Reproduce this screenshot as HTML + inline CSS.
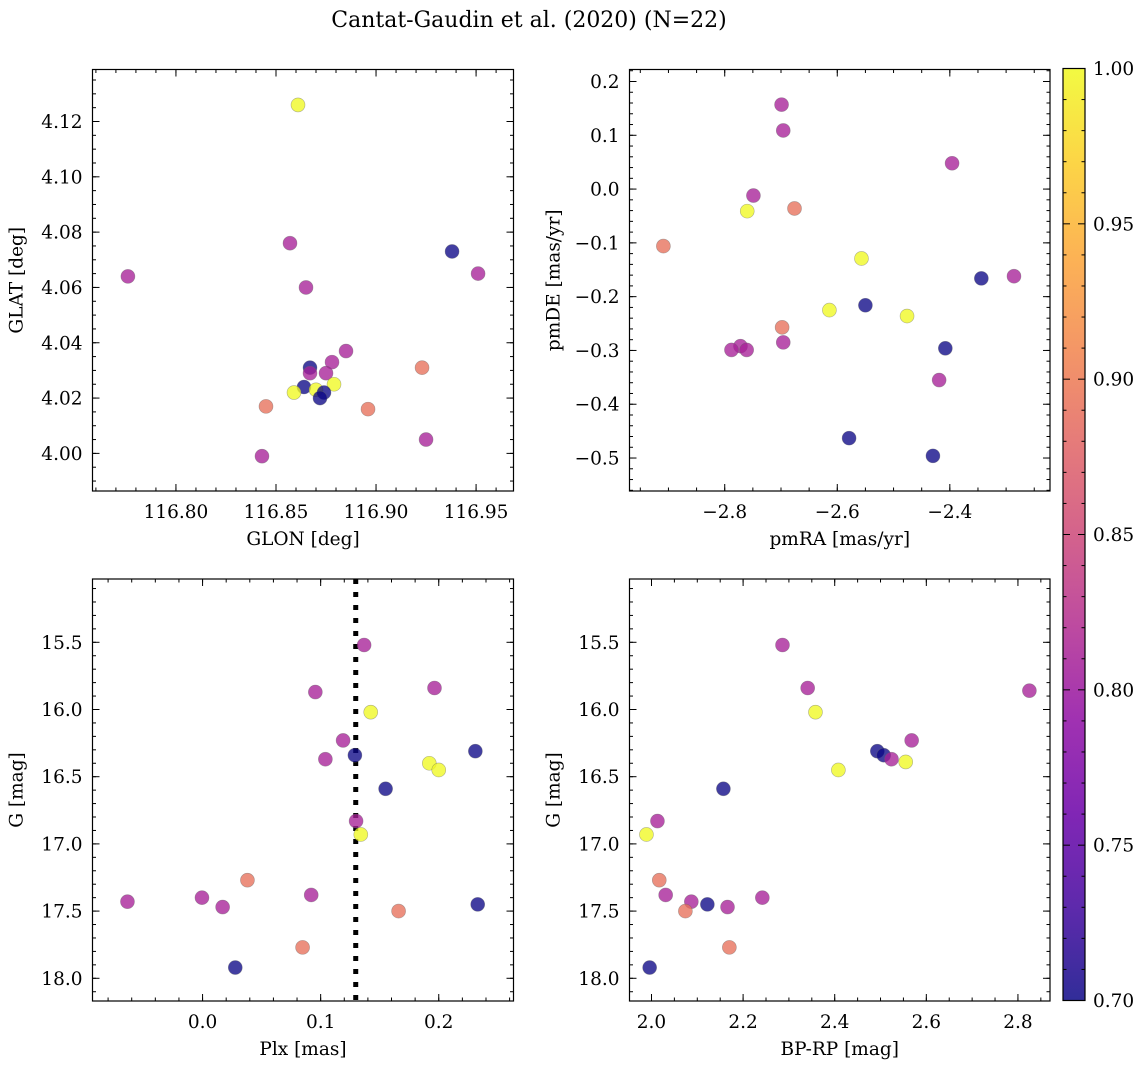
<!DOCTYPE html>
<html><head><meta charset="utf-8"><style>
body{margin:0;background:#fff}
svg text{font-family:"DejaVu Serif","Liberation Serif",serif;fill:#000}
</style></head><body>
<svg id="fig" width="1148" height="1068" viewBox="0 0 1148 1068" xmlns="http://www.w3.org/2000/svg">
<text x="529" y="27" font-size="22" text-anchor="middle">Cantat-Gaudin et al. (2020) (N=22)</text>
</svg>
<script>
// ---- data ----
const glon=[116.861,116.857,116.776,116.938,116.951,116.865,116.885,116.878,116.875,116.867,116.867,116.923,116.864,116.870,116.879,116.859,116.874,116.872,116.845,116.896,116.925,116.843];
const glat=[4.126,4.076,4.064,4.073,4.065,4.060,4.037,4.033,4.029,4.031,4.029,4.031,4.024,4.023,4.025,4.022,4.022,4.020,4.017,4.016,4.005,3.999];
const probTL=[1.0,0.81,0.81,0.70,0.81,0.81,0.81,0.81,0.81,0.70,0.81,0.89,0.70,1.0,1.0,1.0,0.70,0.70,0.89,0.89,0.81,0.81];
const pmra=[-2.699,-2.696,-2.396,-2.749,-2.760,-2.676,-2.909,-2.557,-2.344,-2.286,-2.550,-2.614,-2.476,-2.698,-2.696,-2.408,-2.772,-2.788,-2.761,-2.419,-2.579,-2.430];
const pmde=[0.157,0.109,0.048,-0.012,-0.041,-0.036,-0.106,-0.129,-0.166,-0.162,-0.216,-0.225,-0.236,-0.257,-0.285,-0.296,-0.292,-0.299,-0.299,-0.355,-0.463,-0.496];
const probTR=[0.81,0.81,0.81,0.81,1.0,0.89,0.89,1.0,0.70,0.81,0.70,1.0,1.0,0.89,0.81,0.70,0.81,0.81,0.81,0.81,0.70,0.70];
const plx=[0.1368,0.0955,0.1964,0.1424,0.119,0.129,0.104,0.231,0.192,0.200,0.155,0.130,0.134,0.038,-0.0636,-0.0005,0.017,0.092,0.166,0.233,0.0847,0.0277];
const gmagBL=[15.52,15.87,15.84,16.02,16.23,16.34,16.37,16.31,16.40,16.45,16.59,16.83,16.93,17.27,17.43,17.40,17.47,17.38,17.50,17.45,17.77,17.92];
const probBL=[0.81,0.81,0.81,1.0,0.81,0.70,0.81,0.70,1.0,1.0,0.70,0.81,1.0,0.89,0.81,0.81,0.81,0.81,0.89,0.70,0.89,0.70];
const bprp=[2.286,2.341,2.825,2.358,2.568,2.493,2.507,2.524,2.555,2.408,2.157,2.013,1.989,2.017,2.031,2.087,2.074,2.122,2.166,2.242,2.170,1.996];
const gmagBR=[15.52,15.84,15.86,16.02,16.23,16.31,16.34,16.37,16.39,16.45,16.59,16.83,16.93,17.27,17.38,17.43,17.50,17.45,17.47,17.40,17.77,17.92];
const probBR=[0.81,0.81,0.81,1.0,0.81,0.70,0.70,0.81,1.0,1.0,0.70,0.81,1.0,0.89,0.81,0.81,0.89,0.70,0.81,0.81,0.89,0.70];
const plxMedian=[0.1297];
const cbTicks=[0.70,0.75,0.80,0.85,0.90,0.95,1.00];

const NS='http://www.w3.org/2000/svg';
const fig=document.getElementById('fig');
const FS=18.5;
function mk(tag,attrs,parent){const e=document.createElementNS(NS,tag);for(const k in attrs)e.setAttribute(k,attrs[k]);(parent||fig).appendChild(e);return e;}
const stops=[[0,[13,8,135]],[0.1,[65,4,157]],[0.2,[106,0,168]],[0.3,[143,13,164]],[0.4,[177,42,144]],[0.5,[204,71,120]],[0.6,[225,100,98]],[0.7,[242,132,75]],[0.8,[252,166,54]],[0.9,[252,206,37]],[1,[240,249,33]]];
function plasma(t){t=Math.max(0,Math.min(1,t));for(let i=1;i<stops.length;i++){if(t<=stops[i][0]){const a=stops[i-1],b=stops[i],f=(t-a[0])/(b[0]-a[0]);const c=a[1].map((v,j)=>Math.round(v+(b[1][j]-v)*f));return 'rgb('+c.join(',')+')';}}return 'rgb(240,249,33)';}
function pcol(p){return plasma((p-0.7)/0.3);}

function panel(o){
  const g=mk('g',{});
  
  
  const sx=v=>o.x0+(v-o.xd[0])/(o.xd[1]-o.xd[0])*(o.x1-o.x0);
  const sy=o.inv?(v=>o.y0+(v-o.yd[0])/(o.yd[1]-o.yd[0])*(o.y1-o.y0)):(v=>o.y1-(v-o.yd[0])/(o.yd[1]-o.yd[0])*(o.y1-o.y0));
  const eps=1e-9;
  function ticksX(step,len){const s=Math.ceil((o.xd[0])/step-eps);for(let k=s;k*step<=o.xd[1]+eps;k++){const x=sx(k*step);mk('line',{x1:x,x2:x,y1:o.y1,y2:o.y1-len,stroke:'#000','stroke-width':1},g);mk('line',{x1:x,x2:x,y1:o.y0,y2:o.y0+len,stroke:'#000','stroke-width':1},g);}}
  function ticksY(step,len){const lo=Math.min(...o.yd),hi=Math.max(...o.yd);const s=Math.ceil(lo/step-eps);for(let k=s;k*step<=hi+eps;k++){const y=sy(k*step);mk('line',{x1:o.x0,x2:o.x0+len,y1:y,y2:y,stroke:'#000','stroke-width':1},g);mk('line',{x1:o.x1,x2:o.x1-len,y1:y,y2:y,stroke:'#000','stroke-width':1},g);}}
  ticksX(o.xmin,3.5);ticksY(o.ymin,3.5);ticksX(o.xmaj,7);ticksY(o.ymaj,7);
  const lo=Math.min(...o.yd),hi=Math.max(...o.yd);
  for(let k=Math.ceil(o.xd[0]/o.xmaj-eps);k*o.xmaj<=o.xd[1]+eps;k++){const v=k*o.xmaj;const t=mk('text',{x:sx(v),y:o.y1+27,'font-size':FS,'text-anchor':'middle'},g);t.textContent=(v<-eps?'\u2212':'')+Math.abs(v).toFixed(o.xdec);}
  for(let k=Math.ceil(lo/o.ymaj-eps);k*o.ymaj<=hi+eps;k++){const v=k*o.ymaj;const t=mk('text',{x:o.x0-10,y:sy(v)+6.5,'font-size':FS,'text-anchor':'end'},g);t.textContent=(v<-eps?'\u2212':'')+Math.abs(v).toFixed(o.ydec);}
  const xl=mk('text',{x:(o.x0+o.x1)/2,y:o.y1+54,'font-size':FS,'text-anchor':'middle'},g);xl.textContent=o.xlab;
  
  const yx=o.x0-70,yy=(o.y0+o.y1)/2;
  const yl=mk('text',{x:yx,y:yy,'font-size':FS,'text-anchor':'middle',transform:'rotate(-90 '+yx+' '+yy+')'},g);yl.textContent=o.ylab;
  
  if(o.vline){const l=mk('line',{x1:sx(o.vline[0]),x2:sx(o.vline[0]),y1:o.y0,y2:o.y1,stroke:'#000','stroke-width':5,'stroke-dasharray':'5 8'},g);}
  for(let i=0;i<o.xs.length;i++){const c=mk('circle',{cx:sx(o.xs[i]),cy:sy(o.ys[i]),r:7,fill:pcol(o.ps[i]),'fill-opacity':0.78,stroke:'#666','stroke-opacity':0.5,'stroke-width':0.6},g);
    
    }
  const fr=mk('rect',{x:o.x0,y:o.y0,width:o.x1-o.x0,height:o.y1-o.y0,fill:'none',stroke:'#000','stroke-width':1.2},g);
  
}
panel({name:'panel-glon-glat',x0:92.5,x1:513.5,y0:69.5,y1:491,xd:[116.7583,116.9687],yd:[3.9864,4.1388],xmaj:0.05,xmin:0.01,ymaj:0.02,ymin:0.005,xdec:2,ydec:2,xlab:'GLON [deg]',ylab:'GLAT [deg]',xs:glon,ys:glat,ps:probTL});
panel({name:'panel-pm',x0:629.5,x1:1050,y0:69.5,y1:491,xd:[-2.9692,-2.222],yd:[-0.5613,0.2223],xmaj:0.2,xmin:0.05,ymaj:0.1,ymin:0.02,xdec:1,ydec:1,xlab:'pmRA [mas/yr]',ylab:'pmDE [mas/yr]',xs:pmra,ys:pmde,ps:probTR});
panel({name:'panel-plx-g',x0:92.5,x1:513.5,y0:579,y1:1001,xd:[-0.0932,0.2633],yd:[15.029,18.169],inv:true,xmaj:0.1,xmin:0.02,ymaj:0.5,ymin:0.1,xdec:1,ydec:1,xlab:'Plx [mas]',ylab:'G [mag]',xs:plx,ys:gmagBL,ps:probBL,vline:plxMedian});
panel({name:'panel-cmd',x0:629.5,x1:1050,y0:579,y1:1001,xd:[1.952,2.870],yd:[15.029,18.169],inv:true,xmaj:0.2,xmin:0.05,ymaj:0.5,ymin:0.1,xdec:1,ydec:1,xlab:'BP-RP [mag]',ylab:'G [mag]',xs:bprp,ys:gmagBR,ps:probBR});
// colorbar
const defs=mk('defs',{});const lg=mk('linearGradient',{id:'cbg',x1:0,y1:1,x2:0,y2:0},defs);
for(let i=0;i<=20;i++){mk('stop',{offset:i/20,'stop-color':plasma(i/20),'stop-opacity':0.85},lg);}
const cb=mk('g',{});
const cx0=1063,cx1=1085,cy0=68.5,cy1=1000.5;
mk('rect',{x:cx0,y:cy0,width:cx1-cx0,height:cy1-cy0,fill:'url(#cbg)'},cb);
const cy=v=>cy1-(v-0.7)/0.3*(cy1-cy0);
for(let k=70;k<=100;k++){const y=cy(k/100);const len=(k%5===0)?7:3.5;mk('line',{x1:cx1,x2:cx1-len,y1:y,y2:y,stroke:'#000','stroke-width':1},cb);mk('line',{x1:cx0,x2:cx0+len,y1:y,y2:y,stroke:'#000','stroke-width':1},cb);}
cbTicks.forEach(v=>{const t=mk('text',{x:cx1+8,y:cy(v)+6.5,'font-size':FS},cb);t.textContent=v.toFixed(2);});
mk('rect',{x:cx0,y:cy0,width:cx1-cx0,height:cy1-cy0,fill:'none',stroke:'#000','stroke-width':1.2},cb);
</script>
</body></html>
